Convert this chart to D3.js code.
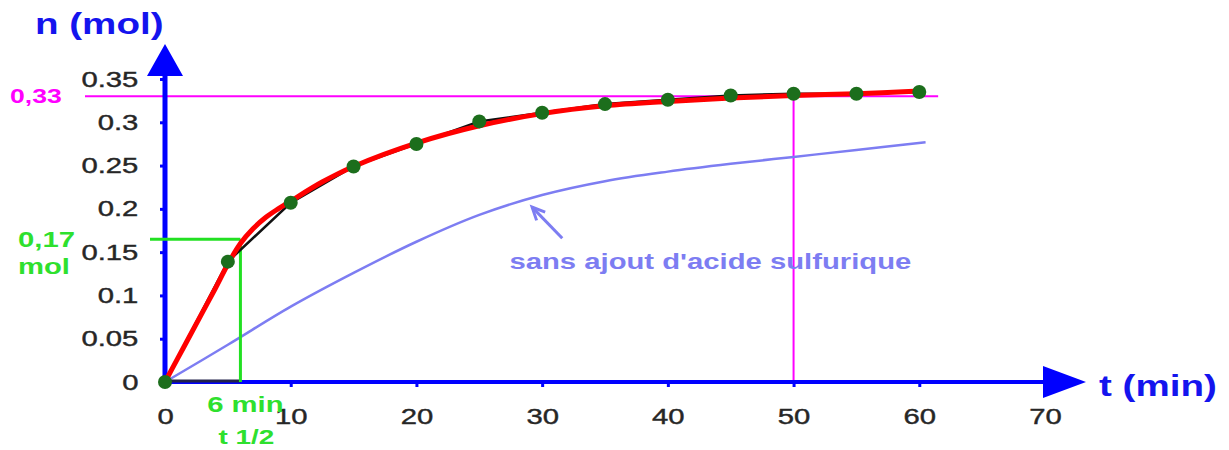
<!DOCTYPE html>
<html>
<head>
<meta charset="utf-8">
<script src="https://cdn.jsdelivr.net/npm/d3@7"></script>
<style>
body { margin: 0; background: #fff; }
svg { display: block; }
text { font-family: "Liberation Sans", Arial, sans-serif; }
</style>
</head>
<body>
<svg id="chart" width="1229" height="450"></svg>
<script>
// measured points (with H2SO4)
let times = [0, 5, 10, 15, 20, 25, 30, 35, 40, 45, 50, 55, 60]
let moles = [0, 0.139, 0.207, 0.249, 0.275, 0.301, 0.311, 0.321, 0.326, 0.331, 0.333, 0.333, 0.335]

// red fitted curve
let fitTimes = [0, 1, 2, 3, 4, 5, 6, 7, 8, 9, 10, 12.5, 15, 20, 25, 30, 35, 40, 45, 50, 55, 60]
let fitMoles = [0, 0.027, 0.054, 0.081, 0.108, 0.136, 0.16, 0.177, 0.19, 0.2, 0.209, 0.231, 0.249, 0.276, 0.296, 0.31, 0.319, 0.324, 0.328, 0.331, 0.333, 0.336]

// blue curve: sans ajout d'acide sulfurique
let slowTimes = [0, 5, 10, 15, 20, 25, 30, 35, 40, 45, 50, 55, 60.5]
let slowMoles = [0, 0.043, 0.087, 0.126, 0.162, 0.193, 0.216, 0.232, 0.243, 0.252, 0.26, 0.268, 0.277]

let xTicks = [0, 10, 20, 30, 40, 50, 60, 70]
let yTicks = [0, 0.05, 0.1, 0.15, 0.2, 0.25, 0.3, 0.35]
let yTickLabels = ['0', '0.05', '0.1', '0.15', '0.2', '0.25', '0.3', '0.35']

let halfTime = 6, halfMoles = 0.165
let finalTime = 50, finalMoles = 0.33

let sx = 1.33 // the picture is stretched sideways

let svg = d3.select('#chart')
svg.append('rect').attr('width', 1229).attr('height', 450).style('fill', '#fff')

let xscale = d3.scaleLinear().domain([0, 70]).range([165, 1045])
let yscale = d3.scaleLinear().domain([0, 0.35]).range([382, 79])

function label(x, y, txt, size, color, weight, anchor) {
    svg.append('text')
        .attr('transform', `translate(${x},${y}) scale(${sx},1)`)
        .attr('text-anchor', anchor || 'start')
        .style('font-size', size + 'px')
        .style('font-weight', weight || 'bold')
        .style('fill', color)
        .text(txt)
}

// magenta guide lines (0,33 mol reached at 50 min)
svg.append('line')
    .attr('x1', 85).attr('x2', xscale(61.5))
    .attr('y1', yscale(finalMoles)).attr('y2', yscale(finalMoles))
    .style('stroke', '#ff00ff').style('stroke-width', 2)
svg.append('line')
    .attr('x1', xscale(finalTime)).attr('x2', xscale(finalTime))
    .attr('y1', yscale(finalMoles)).attr('y2', yscale(0))
    .style('stroke', '#ff00ff').style('stroke-width', 2)

// blue slow curve
let slowData = slowTimes.map((t, i) => ({ t: t, n: slowMoles[i] }))
let line = d3.line()
    .x(function(d) { return xscale(d.t) })
    .y(function(d) { return yscale(d.n) })
    .curve(d3.curveCatmullRom.alpha(0.5))

svg.append('path')
    .attr('d', line(slowData))
    .style('fill', 'none')
    .style('stroke', '#7d7df2')
    .style('stroke-width', 2.5)

// axes
let yaxis = svg.append('g').attr('class', 'yaxis')
    .attr('transform', `translate(${xscale(0)},0)`)
    .call(d3.axisLeft(yscale).tickValues(yTicks).tickSize(5).tickPadding(15)
        .tickFormat((d, i) => yTickLabels[i]))
yaxis.select('.domain').remove()

let xaxis = svg.append('g').attr('class', 'xaxis')
    .attr('transform', `translate(0,${yscale(0)})`)
    .call(d3.axisBottom(xscale).tickValues(xTicks).tickSize(5).tickPadding(21).tickFormat(d3.format('d')))
xaxis.select('.domain').remove()

svg.selectAll('.tick line').style('stroke', '#0000ff').style('stroke-width', 3)
svg.selectAll('.tick text')
    .attr('transform', `scale(${sx},1)`)
    .style('font-size', '22px')
    .style('fill', '#262626')
    .style('stroke', '#262626')
    .style('stroke-width', 0.4)
    .style('font-family', '"Liberation Sans", Arial, sans-serif')

svg.append('line')
    .attr('x1', xscale(0)).attr('x2', xscale(0))
    .attr('y1', yscale(0) + 2).attr('y2', 72)
    .style('stroke', '#0000ff').style('stroke-width', 5)
svg.append('path')
    .attr('d', `M${xscale(0)},44 L${xscale(0) - 18},76 L${xscale(0) + 18},76 Z`)
    .style('fill', '#0000ff')

svg.append('line')
    .attr('x1', xscale(0) - 4).attr('x2', 1048)
    .attr('y1', yscale(0)).attr('y2', yscale(0))
    .style('stroke', '#0000ff').style('stroke-width', 4)
svg.append('path')
    .attr('d', `M1086,${yscale(0)} L1043,${yscale(0) - 16} L1043,${yscale(0) + 16} Z`)
    .style('fill', '#0000ff')

// dark segment under the half-time span
svg.append('line')
    .attr('x1', xscale(0)).attr('x2', xscale(halfTime))
    .attr('y1', yscale(0) - 1).attr('y2', yscale(0) - 1)
    .style('stroke', '#22224a').style('stroke-width', 3)

// green half-time guide
svg.append('line')
    .attr('x1', 150).attr('x2', xscale(halfTime))
    .attr('y1', yscale(halfMoles)).attr('y2', yscale(halfMoles))
    .style('stroke', '#22e022').style('stroke-width', 3)
svg.append('line')
    .attr('x1', xscale(halfTime)).attr('x2', xscale(halfTime))
    .attr('y1', yscale(halfMoles)).attr('y2', yscale(0))
    .style('stroke', '#22e022').style('stroke-width', 3)

// black polyline joining the points, red fit over it
let pts = times.map((t, i) => ({ t: t, n: moles[i] }))
svg.append('path')
    .attr('d', d3.line().x(d => xscale(d.t)).y(d => yscale(d.n))(pts))
    .style('fill', 'none')
    .style('stroke', '#111')
    .style('stroke-width', 2.5)

let fitData = fitTimes.map((t, i) => ({ t: t, n: fitMoles[i] }))
svg.append('path')
    .attr('d', line(fitData))
    .style('fill', 'none')
    .style('stroke', '#ff0000')
    .style('stroke-width', 5)
    .style('stroke-linecap', 'round')

svg.selectAll('.pt').data(pts).enter()
    .append('circle')
    .attr('class', 'pt')
    .attr('cx', d => xscale(d.t))
    .attr('cy', d => yscale(d.n))
    .attr('r', 7)
    .style('fill', '#1c6e1c')

// arrow to the blue curve
let tail = { t: 31.6, n: 0.166 }, tip = { t: 29.2, n: 0.202 }
svg.append('line')
    .attr('x1', xscale(tail.t)).attr('y1', yscale(tail.n))
    .attr('x2', xscale(tip.t)).attr('y2', yscale(tip.n))
    .style('stroke', '#7d7df2').style('stroke-width', 3)
let ang = Math.atan2(yscale(tip.n) - yscale(tail.n), xscale(tip.t) - xscale(tail.t))
let hx = xscale(tip.t), hy = yscale(tip.n)
svg.append('path')
    .attr('d', `M${hx + 14 * Math.cos(ang + 2.7)},${hy + 14 * Math.sin(ang + 2.7)} L${hx},${hy} L${hx + 14 * Math.cos(ang - 2.7)},${hy + 14 * Math.sin(ang - 2.7)}`)
    .style('fill', 'none').style('stroke', '#7d7df2').style('stroke-width', 3)

// texts
label(35, 34, 'n (mol)', 29, '#1414ee', 'bold')
label(1099, 396, 't (min)', 29, '#1414ee', 'bold')
label(10, yscale(finalMoles) + 7, '0,33', 20, '#ff00ff')
label(18, yscale(halfMoles) + 8, '0,17', 22, '#2ee02e')
label(18, yscale(halfMoles) + 35, 'mol', 22, '#2ee02e')
label(xscale(halfTime) + 5, 412, '6 min', 22, '#2ee02e', 'bold', 'middle')
label(xscale(halfTime) + 6, 444, 't 1/2', 21, '#2ee02e', 'bold', 'middle')
label(xscale(27.4), yscale(0.131), "sans ajout d'acide sulfurique", 22, '#7d7df2')
</script>
</body>
</html>
